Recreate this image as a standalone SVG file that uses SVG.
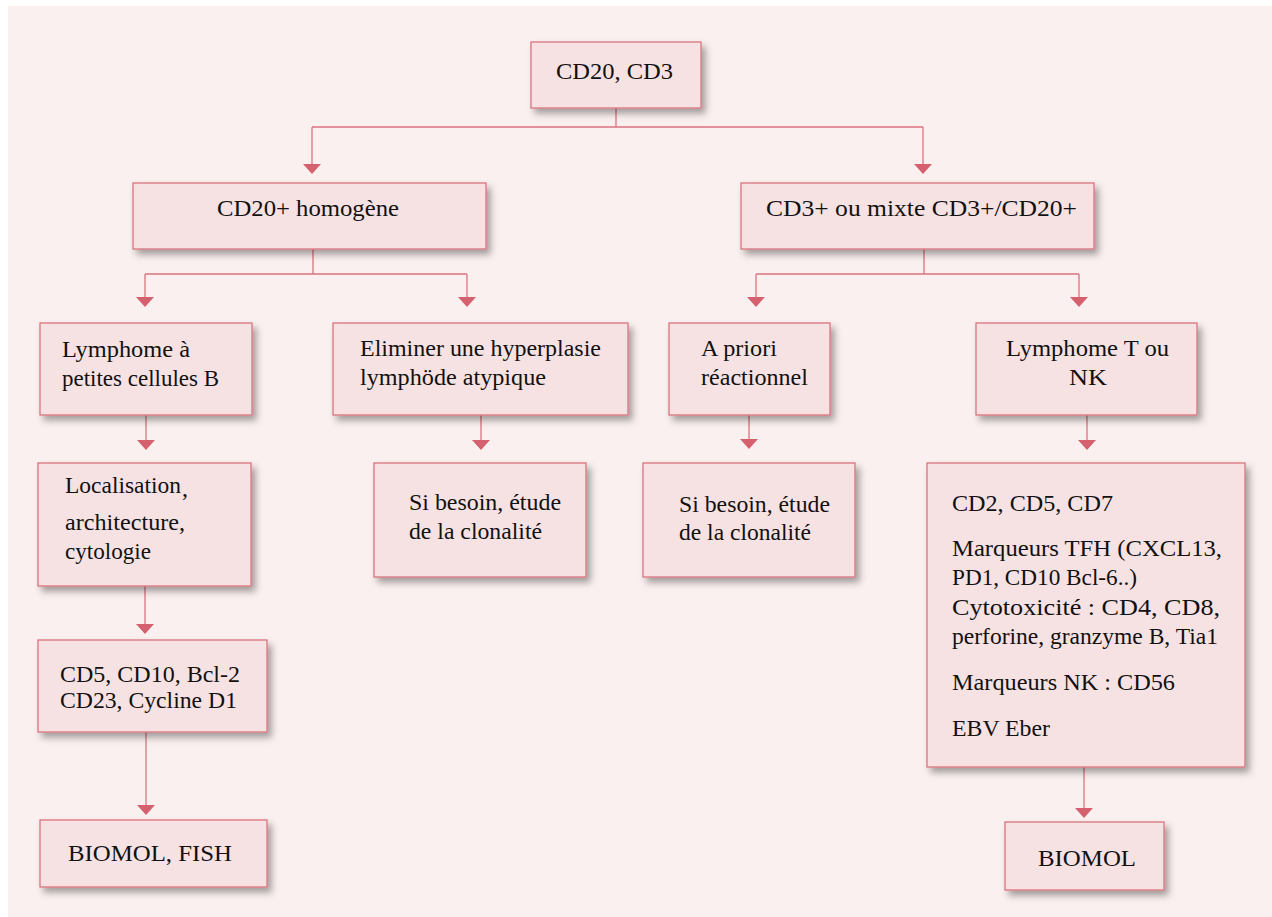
<svg xmlns="http://www.w3.org/2000/svg" width="1272" height="917" viewBox="0 0 1272 917">
<defs>
<style>
.bx{fill:#f7e2e3;stroke:#d9737d;stroke-width:1.3;filter:url(#sh)}
.t{font-family:"Liberation Serif","Times New Roman",serif;font-size:24px;fill:#111}
.ln{fill:none;stroke:#d9737d;stroke-width:1.3}
.ah{fill:#d5606e}
</style>
<filter id="sh" x="-20%" y="-20%" width="150%" height="160%">
<feDropShadow dx="4" dy="5" stdDeviation="3.5" flood-color="#000" flood-opacity="0.35"/>
</filter>
</defs>
<rect x="0" y="0" width="1272" height="917" fill="#ffffff"/>
<rect x="8" y="6" width="1264" height="911" fill="#fbf0f0"/>

<g id="connectors">
<path class="ln" d="M616 108V127M312 127H923M312 127V165M923 127V165"/>
<path class="ah" d="M303 164H321L312 174Z"/>
<path class="ah" d="M914 164H932L923 174Z"/>
<path class="ln" d="M313 249V274M145 274H467M145 274V298M467 274V298"/>
<path class="ah" d="M136 297H154L145 307Z"/>
<path class="ah" d="M458 297H476L467 307Z"/>
<path class="ln" d="M924 249V274M756 274H1079M756 274V298M1079 274V298"/>
<path class="ah" d="M747 297H765L756 307Z"/>
<path class="ah" d="M1070 297H1088L1079 307Z"/>
<path class="ln" d="M146 408V441"/>
<path class="ah" d="M137 440H155L146 450Z"/>
<path class="ln" d="M481 408V441"/>
<path class="ah" d="M472 440H490L481 450Z"/>
<path class="ln" d="M749 405V440"/>
<path class="ah" d="M740 439H758L749 449Z"/>
<path class="ln" d="M1087 408V441"/>
<path class="ah" d="M1078 440H1096L1087 450Z"/>
<path class="ln" d="M145 586V625"/>
<path class="ah" d="M136 624H154L145 634Z"/>
<path class="ln" d="M146 732V806"/>
<path class="ah" d="M137 805H155L146 815Z"/>
<path class="ln" d="M1084 767V809"/>
<path class="ah" d="M1075 808H1093L1084 818Z"/>
</g>

<g id="n-cd20cd3">
<rect class="bx" x="531" y="42" width="170" height="66"/>
<text class="t" x="556" y="79" textLength="117" lengthAdjust="spacingAndGlyphs">CD20, CD3</text>
</g>
<g id="n-cd20hom">
<rect class="bx" x="133" y="183" width="353" height="66"/>
<text class="t" x="217" y="216" textLength="182" lengthAdjust="spacingAndGlyphs">CD20+ homogène</text>
</g>
<g id="n-cd3mixte">
<rect class="bx" x="741" y="183" width="353" height="66"/>
<text class="t" x="766" y="216" textLength="311" lengthAdjust="spacingAndGlyphs">CD3+ ou mixte CD3+/CD20+</text>
</g>
<g id="n-lymphB">
<rect class="bx" x="40" y="323" width="212" height="92"/>
<text class="t" x="62" y="357" textLength="128" lengthAdjust="spacingAndGlyphs">Lymphome à</text>
<text class="t" x="62" y="386" textLength="157" lengthAdjust="spacingAndGlyphs">petites cellules B</text>
</g>
<g id="n-eliminer">
<rect class="bx" x="333" y="323" width="295" height="92"/>
<text class="t" x="360" y="356" textLength="241" lengthAdjust="spacingAndGlyphs">Eliminer une hyperplasie</text>
<text class="t" x="360" y="385" textLength="186" lengthAdjust="spacingAndGlyphs">lymphöde atypique</text>
</g>
<g id="n-apriori">
<rect class="bx" x="669" y="323" width="161" height="92"/>
<text class="t" x="701" y="356" textLength="76" lengthAdjust="spacingAndGlyphs">A priori</text>
<text class="t" x="701" y="385" textLength="107" lengthAdjust="spacingAndGlyphs">réactionnel</text>
</g>
<g id="n-lymphT">
<rect class="bx" x="976" y="323" width="221" height="92"/>
<text class="t" x="1006" y="356" textLength="163" lengthAdjust="spacingAndGlyphs">Lymphome T ou</text>
<text class="t" x="1069" y="385" textLength="38" lengthAdjust="spacingAndGlyphs">NK</text>
</g>
<g id="n-localisation">
<rect class="bx" x="38" y="463" width="213" height="123"/>
<text class="t" x="65" y="493" textLength="116" lengthAdjust="spacingAndGlyphs">Localisation</text>
<text class="t" x="182" y="496">,</text>
<text class="t" x="65" y="530" textLength="120" lengthAdjust="spacingAndGlyphs">architecture,</text>
<text class="t" x="65" y="559" textLength="86" lengthAdjust="spacingAndGlyphs">cytologie</text>
</g>
<g id="n-clon1">
<rect class="bx" x="374" y="463" width="212" height="114"/>
<text class="t" x="409" y="510" textLength="152" lengthAdjust="spacingAndGlyphs">Si besoin, étude</text>
<text class="t" x="409" y="539" textLength="133" lengthAdjust="spacingAndGlyphs">de la clonalité</text>
</g>
<g id="n-clon2">
<rect class="bx" x="643" y="463" width="212" height="114"/>
<text class="t" x="679" y="512" textLength="151" lengthAdjust="spacingAndGlyphs">Si besoin, étude</text>
<text class="t" x="679" y="540" textLength="132" lengthAdjust="spacingAndGlyphs">de la clonalité</text>
</g>
<g id="n-markersT">
<rect class="bx" x="927" y="463" width="318" height="304"/>
<text class="t" x="952" y="511" textLength="161" lengthAdjust="spacingAndGlyphs">CD2, CD5, CD7</text>
<text class="t" x="952" y="556" textLength="270" lengthAdjust="spacingAndGlyphs">Marqueurs TFH (CXCL13,</text>
<text class="t" x="952" y="585" textLength="185" lengthAdjust="spacingAndGlyphs">PD1, CD10 Bcl-6..)</text>
<text class="t" x="952" y="615" textLength="268" lengthAdjust="spacingAndGlyphs">Cytotoxicité : CD4, CD8,</text>
<text class="t" x="952" y="644" textLength="266" lengthAdjust="spacingAndGlyphs">perforine, granzyme B, Tia1</text>
<text class="t" x="952" y="690" textLength="223" lengthAdjust="spacingAndGlyphs">Marqueurs NK : CD56</text>
<text class="t" x="952" y="736" textLength="98" lengthAdjust="spacingAndGlyphs">EBV Eber</text>
</g>
<g id="n-markersB">
<rect class="bx" x="38" y="640" width="229" height="92"/>
<text class="t" x="60" y="682" textLength="180" lengthAdjust="spacingAndGlyphs">CD5, CD10, Bcl-2</text>
<text class="t" x="60" y="708" textLength="177" lengthAdjust="spacingAndGlyphs">CD23, Cycline D1</text>
</g>
<g id="n-biomolfish">
<rect class="bx" x="40" y="820" width="227" height="67"/>
<text class="t" x="68" y="861" textLength="164" lengthAdjust="spacingAndGlyphs">BIOMOL, FISH</text>
</g>
<g id="n-biomol">
<rect class="bx" x="1005" y="822" width="159" height="68"/>
<text class="t" x="1038" y="866" textLength="98" lengthAdjust="spacingAndGlyphs">BIOMOL</text>
</g>
</svg>
